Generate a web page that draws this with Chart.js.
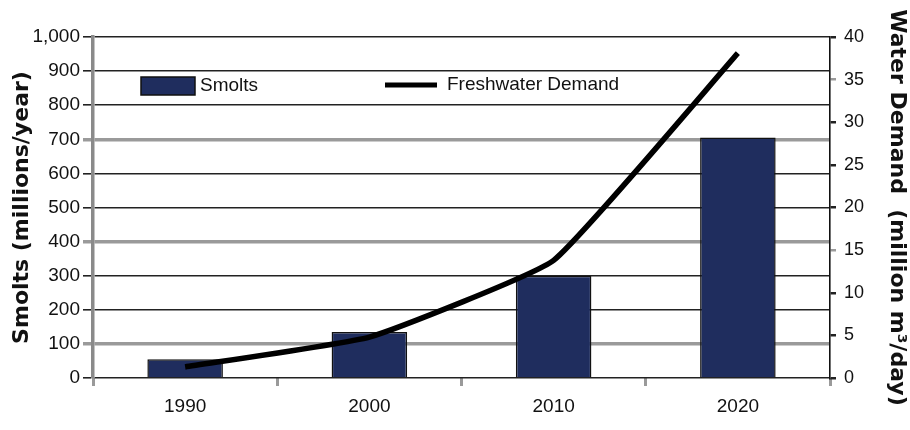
<!DOCTYPE html>
<html>
<head>
<meta charset="utf-8">
<script src="https://cdn.jsdelivr.net/npm/chart.js@4.4.1/dist/chart.umd.min.js"></script>
<style>
  html, body { margin: 0; padding: 0; background: #fff; }
  #wrap { width: 910px; height: 430px; position: relative; }
</style>
</head>
<body>
<div id="wrap"><canvas id="chart"></canvas></div>
<script>
// 데이터
const years = ['1990', '2000', '2010', '2020'];
const smolts = [55, 135, 300, 705];          // millions/year
const waterDemand = [1.3, 4.8, 13.8, 38.1];  // million m3/day

const NAVY = '#1f2d5e';
const GRAY = '#9a9a9a';
const DARK = '#222222';
const SANS = '"Liberation Sans", Arial, sans-serif';

// 범례를 차트 영역 안에 그리는 플러그인
const innerLegend = {
  id: 'innerLegend',
  afterDraw(chart) {
    const c = chart.ctx;
    const a = chart.chartArea;
    const bars = chart.data.datasets.find(d => d.type === 'bar');
    const line = chart.data.datasets.find(d => d.type === 'line');
    c.save();
    c.font = '19px ' + SANS;
    c.textBaseline = 'middle';
    // Smolts
    c.fillStyle = NAVY;
    c.fillRect(a.left + 48, a.top + 40, 54, 18);
    c.strokeStyle = '#111';
    c.lineWidth = 1.5;
    c.strokeRect(a.left + 48, a.top + 40, 54, 18);
    c.fillStyle = '#111';
    c.fillText(bars.label, a.left + 107, a.top + 49);
    // Freshwater Demand
    c.strokeStyle = '#000';
    c.lineWidth = 5;
    c.beginPath();
    c.moveTo(a.left + 292, a.top + 48);
    c.lineTo(a.left + 344, a.top + 48);
    c.stroke();
    c.fillText(line.label, a.left + 354, a.top + 48);
    c.restore();
  }
};

// 왼쪽 축 격자선: 100, 400, 700 은 회색 굵은 선
function isGrayLeft(c) {
  const v = c.tick ? c.tick.value : 0;
  return v === 100 || v === 400 || v === 700;
}
function rightTickColor(c) {
  const v = c.tick ? c.tick.value : 0;
  return (v === 35 || v === 15) ? GRAY : DARK;
}

const ctx = document.getElementById('chart').getContext('2d');
new Chart(ctx, {
  type: 'bar',
  data: {
    labels: years,
    datasets: [
      {
        type: 'line',
        label: 'Freshwater Demand',
        data: waterDemand,
        yAxisID: 'y1',
        borderColor: '#000',
        borderWidth: 5.5,
        pointRadius: 0,
        tension: 0.12,
        order: 0
      },
      {
        type: 'bar',
        label: 'Smolts',
        data: smolts,
        yAxisID: 'y',
        backgroundColor: NAVY,
        borderColor: '#111',
        borderWidth: 1.5,
        categoryPercentage: 1,
        barPercentage: 0.41,
        order: 1
      }
    ]
  },
  options: {
    responsive: true,
    maintainAspectRatio: false,
    animation: false,
    layout: { padding: { top: 37, left: 0, right: 0, bottom: 0 } },
    plugins: {
      legend: { display: false },
      tooltip: { enabled: false }
    },
    scales: {
      x: {
        offset: true,
        grid: {
          offset: true,
          drawOnChartArea: false,
          color: GRAY,
          lineWidth: 3,
          tickLength: 8
        },
        border: { display: false },
        ticks: {
          color: '#111',
          padding: 9,
          font: { family: SANS, size: 19 }
        },
        afterFit(s) { s.height = 52; }
      },
      y: {
        position: 'left',
        min: 0,
        max: 1000,
        ticks: {
          stepSize: 100,
          color: '#111',
          padding: 3,
          font: { family: SANS, size: 19 },
          callback: v => v.toLocaleString('en-US')
        },
        grid: {
          color: c => isGrayLeft(c) ? GRAY : DARK,
          lineWidth: c => isGrayLeft(c) ? 3.5 : 1.6,
          tickLength: 10
        },
        border: { display: true, color: '#8a8a8a', width: 3.5 },
        title: {
          display: true,
          text: 'Smolts (millions/year)',
          color: '#111',
          padding: { top: 9, bottom: 0 },
          font: { family: '"DejaVu Sans", sans-serif', size: 22, weight: 'bold' }
        },
        afterFit(s) { s.width = 93; }
      },
      y1: {
        position: 'right',
        min: 0,
        max: 40,
        ticks: {
          stepSize: 5,
          color: '#111',
          padding: 8,
          font: { family: SANS, size: 18 }
        },
        grid: {
          drawOnChartArea: false,
          color: rightTickColor,
          lineWidth: 2.5,
          tickLength: 6
        },
        border: { display: true, color: '#111', width: 1.6 },
        title: {
          display: true,
          text: 'Water Demand  (million m³/day)',
          color: '#111',
          padding: 0,
          font: { family: '"DejaVu Sans", sans-serif', size: 22, weight: 'bold' }
        },
        afterFit(s) { s.width = 80; }
      }
    }
  },
  plugins: [innerLegend]
});
</script>
</body>
</html>
